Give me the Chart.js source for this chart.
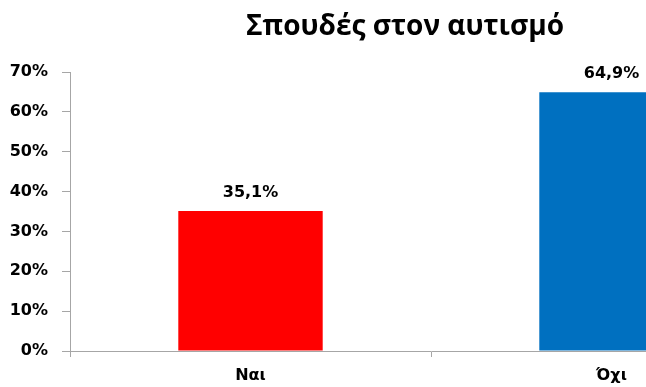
<!DOCTYPE html>
<html>
<head>
<meta charset="utf-8">
<script src="https://cdn.jsdelivr.net/npm/chart.js@4/dist/chart.umd.min.js"></script>
<style>
  html, body { margin: 0; padding: 0; background: #fff; overflow: hidden; }
  #wrap { width: 810px; height: 387px; }
</style>
</head>
<body>
<div id="wrap"><canvas id="chart" width="810" height="387"></canvas></div>
<script>
const categories = ["Ναι", "Όχι"];
const values = [35.1, 64.9];
const barColors = ["#FF0000", "#0070C0"];
const chartTitle = "Σπουδές στον αυτισμό";

const FONT = "'DejaVu Sans', Verdana, sans-serif";
const TITLE_FONT = "'Open Sans', 'Noto Sans', sans-serif";

// title drawn by hand so it sits where the original one does
const titleText = {
  id: "titleText",
  afterDraw(chart) {
    const ctx = chart.ctx;
    ctx.save();
    ctx.font = "bold 28px " + TITLE_FONT;
    ctx.fillStyle = "#000";
    ctx.textAlign = "center";
    ctx.textBaseline = "alphabetic";
    ctx.fillText(chartTitle, 405, 35);
    ctx.restore();
  },
};

// value labels above the bars
const valueLabels = {
  id: "valueLabels",
  afterDatasetsDraw(chart) {
    const ctx = chart.ctx;
    const meta = chart.getDatasetMeta(0);
    ctx.save();
    ctx.font = "bold 16px " + FONT;
    ctx.fillStyle = "#000";
    ctx.textAlign = "center";
    ctx.textBaseline = "alphabetic";
    meta.data.forEach((bar, i) => {
      const text = values[i].toFixed(1).replace(".", ",") + "%";
      ctx.fillText(text, bar.x, bar.y - 14);
    });
    ctx.restore();
  },
};

new Chart(document.getElementById("chart").getContext("2d"), {
  type: "bar",
  data: {
    labels: categories,
    datasets: [
      {
        data: values,
        backgroundColor: barColors,
        borderWidth: 0,
        categoryPercentage: 1.0,
        barPercentage: 0.4,
      },
    ],
  },
  options: {
    responsive: false,
    animation: false,
    layout: { padding: { top: 72, right: 18 } },
    plugins: {
      legend: { display: false },
      tooltip: { enabled: false },
      title: { display: false },
    },
    scales: {
      x: {
        afterFit: (scale) => { scale.height = 36; },
        border: { color: "#A6A6A6", width: 1 },
        grid: {
          offset: true,
          drawOnChartArea: false,
          drawTicks: true,
          tickLength: 6,
          color: "#A6A6A6",
        },
        ticks: {
          color: "#000",
          padding: 9,
          font: { family: FONT, size: 16, weight: "bold" },
        },
      },
      y: {
        min: 0,
        max: 70,
        afterFit: (scale) => { scale.width = 70; },
        border: { color: "#A6A6A6", width: 1 },
        grid: {
          drawOnChartArea: false,
          drawTicks: true,
          tickLength: 8,
          color: "#A6A6A6",
        },
        ticks: {
          stepSize: 10,
          color: "#000",
          padding: 14,
          font: { family: FONT, size: 16, weight: "bold" },
          callback: (v) => v + "%",
        },
      },
    },
  },
  plugins: [valueLabels, titleText],
});
</script>
</body>
</html>
